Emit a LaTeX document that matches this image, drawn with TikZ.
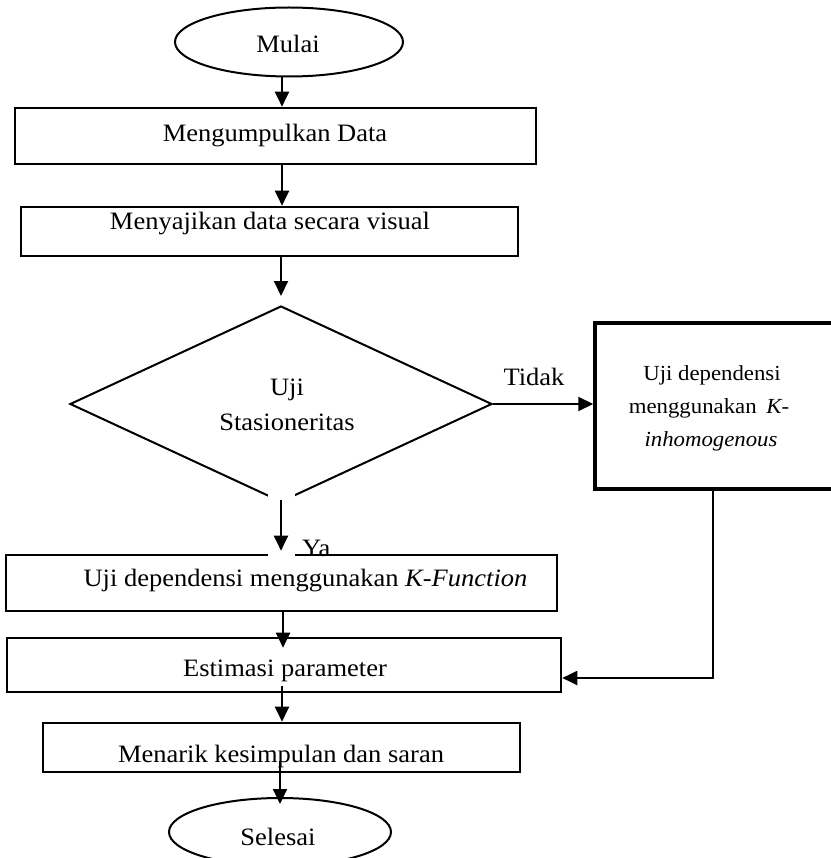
\documentclass[tikz,border=0pt]{standalone}
\usepackage{fontspec}
\setmainfont{Liberation Serif}[FakeStretch=1.06]
\usetikzlibrary{shapes.geometric,arrows.meta,calc}
\begin{document}
\begin{tikzpicture}[x=1pt,y=-1pt,
  box/.style={draw, line width=2.6pt, rectangle, inner sep=0pt},
  term/.style={draw, line width=2pt, ellipse, inner sep=0pt},
  lbl/.style={anchor=base, inner sep=0pt, font=\fontsize{25}{30}\selectfont},
  slbl/.style={anchor=base, inner sep=0pt, font=\fontsize{21.5}{33}\selectfont},
  arr/.style={line width=2pt, -{Triangle[length=15pt,width=14pt]}},
]
\useasboundingbox (0,0) rectangle (830,858);

% start
\node[term, minimum width=228pt, minimum height=69pt] (start) at (289,42) {};
\node[lbl] (tstart) at (288,53) {Mulai};

% box 1
\node[box, minimum width=521pt, minimum height=56pt] (b1) at (275.5,136) {};
\node[lbl] (t1) at (275,142) {Mengumpulkan Data};

% box 2
\node[box, minimum width=497pt, minimum height=49pt] (b2) at (269.5,231.5) {};
\node[lbl] (t2) at (270,230) {Menyajikan data secara visual};

% decision
\node[draw, diamond, line width=2pt, inner sep=0pt, minimum width=422pt, minimum height=196pt] (dec) at (281,404) {};
\node[lbl] (td1) at (287,395) {Uji};
\node[lbl] (td2) at (287,430) {Stasioneritas};
\node[lbl] (tidak) at (534,385) {Tidak};

% right box
\node[box, line width=3.5pt, minimum width=241pt, minimum height=166pt] (rb) at (715.5,406) {};
\node[slbl] (tr1) at (712,380) {Uji dependensi};
\node[slbl] (tr2) at (709,413) {menggunakan\hspace{0.45em}\textit{K-}};
\node[slbl] (tr3) at (711,446) {\textit{inhomogenous}};

% box 3
\node[lbl, anchor=base west] (ya) at (302,556) {Ya};
\node[box, minimum width=551pt, minimum height=56pt] (b3) at (281.5,583) {};
\node[lbl] (t3) at (305.5,586) {Uji dependensi menggunakan \textit{K-Function}};

% estimasi
\node[box, minimum width=554pt, minimum height=54pt] (est) at (284,665) {};
\node[lbl] (t4) at (285,676) {Estimasi parameter};

% menarik
\node[box, minimum width=477pt, minimum height=49pt] (men) at (281.5,747.5) {};
\node[lbl] (t5) at (281,762) {Menarik kesimpulan dan saran};

% end
\node[term, minimum width=222pt, minimum height=68pt] (sel) at (280,832) {};
\node[lbl] (tsel) at (278,845) {Selesai};

% gap below the decision
\fill[white] (268,493) rectangle (295,558);

% connectors
\coordinate (x1) at (282,0);
\coordinate (x2) at (281,0);
\coordinate (x3) at (283,0);
\coordinate (x4) at (280,0);
\coordinate (ret) at (713,678);
\draw[arr] (start.south -| x1) -- (b1.north -| x1);
\draw[arr] (b1.south -| x1) -- (b2.north -| x1);
\draw[arr] (b2.south -| x2) -- ($(dec.north)+(0,-9)$);
\draw[arr] ($(dec.south)+(0,-3)$) -- ($(dec.south |- b3.north)+(0,-3)$);
\draw[arr] (dec.east) -- (dec.east -| rb.west);
\draw[arr] (rb.south -| ret) -- (ret) -- (ret -| est.east);
\draw[arr] (b3.south -| x3) -- ($(est.north -| x3)+(0,11)$);
\draw[arr] ($(est.south -| x1)+(0,-7)$) -- (men.north -| x1);
\draw[arr] ($(men.south -| x4)+(0,-12)$) -- ($(sel.north -| x4)+(0,7)$);
\end{tikzpicture}
\end{document}
